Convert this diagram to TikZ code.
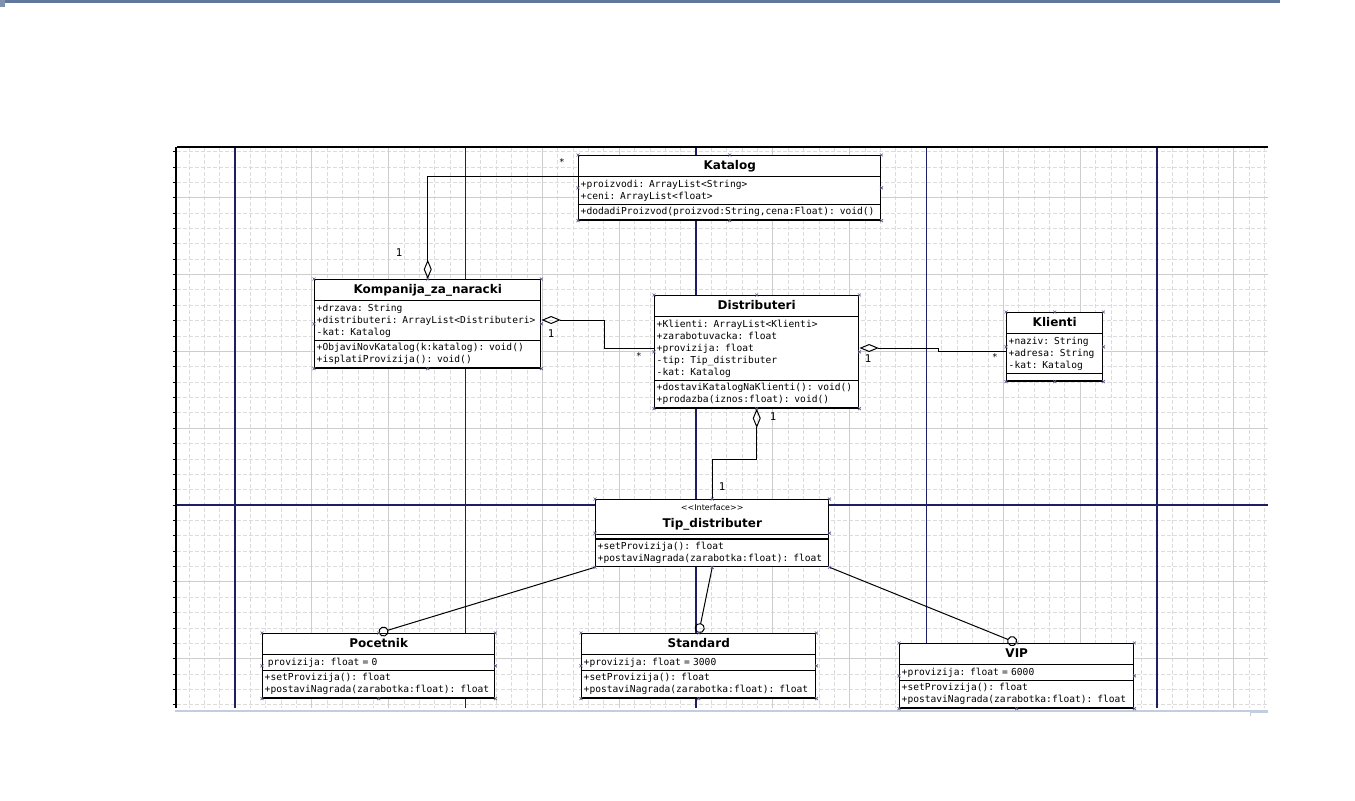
\documentclass[tikz,border=0pt]{standalone}
\usepackage{fontspec}
\newfontfamily\memberfont{DejaVu Sans Mono}
\newfontfamily\titlefont{DejaVu Sans}
\usetikzlibrary{shapes.multipart}
\usetikzlibrary{arrows.meta}
\definecolor{guideblue}{RGB}{30,30,100}
\definecolor{gridgray}{RGB}{205,205,205}
\definecolor{handlegray}{RGB}{95,95,140}
\definecolor{topstrip}{RGB}{95,120,155}
\definecolor{scrollline}{RGB}{195,205,225}
\newcommand{\rs}{\rule[-2.4pt]{0pt}{9pt}}
\newcommand{\classtitle}[1]{\makebox[\linewidth]{\titlefont\bfseries\fontsize{9}{11}\selectfont\rule[-4pt]{0pt}{13pt}#1}}

\begin{document}
\begin{tikzpicture}[x=0.75pt, y=-0.75pt, line join=miter]
    \tikzstyle{umlclass}=[draw=black, line width=1.1pt, fill=white, rectangle split, rectangle split parts=3, anchor=north west, align=left, inner xsep=1.5pt, inner ysep=0.8pt, font=\memberfont\fontsize{7.2}{9}\selectfont]
    \tikzstyle{assoc}=[draw=black, line width=0.75pt]
    \tikzstyle{aggrstart}=[assoc, {Diamond[open,length=14.5pt,width=6pt]}-]
    \tikzstyle{aggrend}=[assoc, -{Diamond[open,length=14.5pt,width=6pt]}]
    \tikzstyle{realize}=[assoc, -{Circle[open,length=7.5pt]}]
    \tikzstyle{mult}=[inner sep=0pt, font=\memberfont\fontsize{8}{9}\selectfont]
    \tikzstyle{griddash}=[gridgray!70, line width=0.6pt, dash pattern=on 3pt off 1.5pt]
    \tikzstyle{gridline}=[gridgray, line width=0.75pt]
    \tikzstyle{guide}=[guideblue, line width=1.1pt]
    \tikzstyle{handle}=[handlegray, line width=0.5pt]

    \fill[white] (0,0) rectangle (1355,800);
    \fill[topstrip] (0,0) rectangle (1280,2.5);
    \fill[topstrip!80] (0,0) rectangle (5,7);

    % canvas grid
    \begin{scope}
        \clip (177,148) rectangle (1268,708);
        \foreach \k in {-4,...,68}
            \draw[griddash] ({235+\k*230.5/15},148) -- ({235+\k*230.5/15},708);
        \foreach \k in {-24,...,14}
            \draw[griddash] (177,{505+\k*230.5/15}) -- (1268,{505+\k*230.5/15});
        \foreach \k in {-1,...,14}
            \draw[gridline] ({235+\k*230.5/3},148) -- ({235+\k*230.5/3},708);
        \foreach \k in {-5,...,3}
            \draw[gridline] (177,{505+\k*230.5/3}) -- (1268,{505+\k*230.5/3});
    \end{scope}
    \foreach \k in {0,...,4}
        \draw[guide] ({235+\k*230.5},148) -- ({235+\k*230.5},708);
    \draw[guide] (177,505) -- (1268,505);

    \draw[black, line width=1.1pt] (177,147) -- (1268,147);
    \draw[black, line width=2pt] (176,147) -- (176,708);
    \foreach \k in {-23,...,13}
        \draw[black, line width=0.6pt] (172.5,{505+\k*230.5/15}) -- (176,{505+\k*230.5/15});
    \draw[scrollline, line width=1.5pt] (175,711) -- (1268,711);
    \draw[scrollline, line width=0.6pt] (1250,716) -- (1250,712) -- (1268,712);

    \node[umlclass, text width=223.5pt] (kat) at (578,155) {\classtitle{Katalog}
        \nodepart{second}\rs+proizvodi: ArrayList<String>\\\rs+ceni: ArrayList<float>
        \nodepart{third}\rs+dodadiProizvod(proizvod:String,cena:Float): void()};
    \node[umlclass, text width=166.5pt] (komp) at (314,279) {\classtitle{Kompanija\_za\_naracki}
        \nodepart{second}\rs+drzava: String\\\rs+distributeri: ArrayList<Distributeri>\\\rs-kat: Katalog
        \nodepart{third}\rs+ObjaviNovKatalog(k:katalog): void()\\\rs+isplatiProvizija(): void()};
    \node[umlclass, text width=150pt] (dist) at (654,295) {\classtitle{Distributeri}
        \nodepart{second}\rs+Klienti: ArrayList<Klienti>\\\rs+zarabotuvacka: float\\\rs+provizija: float\\\rs-tip: Tip\_distributer\\\rs-kat: Katalog
        \nodepart{third}\rs+dostaviKatalogNaKlienti(): void()\\\rs+prodazba(iznos:float): void()};
    \node[umlclass, text width=69pt] (kli) at (1006,312) {\classtitle{Klienti}
        \nodepart{second}\rs+naziv: String\\\rs+adresa: String\\\rs-kat: Katalog
        \nodepart{third}\rule{0pt}{3pt}};
    \node[umlclass, text width=171.75pt] (tip) at (595,499) {\makebox[\linewidth]{\titlefont\fontsize{6}{7}\selectfont\rule[-2pt]{0pt}{9pt}<{}<Interface>{}>}\\\makebox[\linewidth]{\titlefont\bfseries\fontsize{9}{11}\selectfont\rule[-3.75pt]{0pt}{13.25pt}Tip\_distributer}
        \nodepart{second}\rule{0pt}{0.75pt}
        \nodepart{third}\rs+setProvizija(): float\\\rs+postaviNagrada(zarabotka:float): float};
    \node[umlclass, text width=171pt] (poc) at (262,633) {\classtitle{Pocetnik}
        \nodepart{second}\rs\ provizija: float = 0
        \nodepart{third}\rs+setProvizija(): float\\\rs+postaviNagrada(zarabotka:float): float};
    \node[umlclass, text width=172.5pt] (std) at (581,633) {\classtitle{Standard}
        \nodepart{second}\rs+provizija: float = 3000
        \nodepart{third}\rs+setProvizija(): float\\\rs+postaviNagrada(zarabotka:float): float};
    \node[umlclass, text width=172.5pt] (vip) at (899,643) {\classtitle{VIP}
        \nodepart{second}\rs+provizija: float = 6000
        \nodepart{third}\rs+setProvizija(): float\\\rs+postaviNagrada(zarabotka:float): float};

    \draw[aggrend] (kat.text split west) -| (komp.north);
    \draw[aggrstart] (komp.east |- 0,320) -- ++(63,0) |- (dist.west |- 0,348);
    \draw[aggrstart] (dist.east |- 0,348) -- ++(79,0) |- (kli.west |- 0,351);
    \draw[aggrstart] (dist.south) -- ++(0,51) -| (tip.north);
    \draw[realize] (tip.south west) -- (poc.north);
    \draw[realize] (tip.south) -- (std.north);
    \draw[realize] (tip.south east) -- (vip.north);

    \node[mult, font=\memberfont\fontsize{7}{8}\selectfont] (mKat) at (562,162) {*};
    \node[mult] (mKomp) at (399,253) {1};
    \node[mult] (mKompR) at (551,334) {1};
    \node[mult, font=\memberfont\fontsize{7}{8}\selectfont] (mDistL) at (639,356) {*};
    \node[mult] (mDistR) at (868,359) {1};
    \node[mult, font=\memberfont\fontsize{7}{8}\selectfont] (mKli) at (995,357) {*};
    \node[mult] (mDistB) at (773,417) {1};
    \node[mult] (mTip) at (722,487) {1};

    \foreach \c in {kat,komp,dist,kli,tip,poc,std,vip}
        \foreach \a in {north west,north,north east,east,south east,south,south west,west}
            \draw[handle] (\c.\a) +(-1.5,-1.5) -- +(1.5,1.5) +(-1.5,1.5) -- +(1.5,-1.5);
\end{tikzpicture}
\end{document}
